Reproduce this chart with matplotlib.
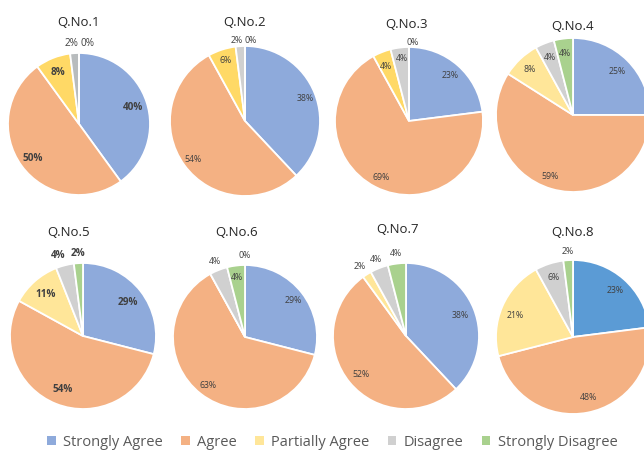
import numpy as np
import matplotlib
matplotlib.use("Agg")
import matplotlib.pyplot as plt
from matplotlib.patches import Patch

plt.rcParams["font.family"] = ["Open Sans", "DejaVu Sans"]

# --- data ---
categories = ["Strongly Agree", "Agree", "Partially Agree", "Disagree", "Strongly Disagree"]
titles = ["Q.No.1", "Q.No.2", "Q.No.3", "Q.No.4", "Q.No.5", "Q.No.6", "Q.No.7", "Q.No.8"]
q1 = [40, 50, 8, 2, 0]
q2 = [38, 54, 6, 2, 0]
q3 = [23, 69, 4, 4, 0]
q4 = [25, 59, 8, 4, 4]
q5 = [29, 54, 11, 4, 2]
q6 = [29, 63, 0, 4, 4]
q7 = [38, 52, 2, 4, 4]
q8 = [23, 48, 21, 6, 2]
values = [q1, q2, q3, q4, q5, q6, q7, q8]

# --- layout (pixels in a 644x456 canvas) ---
W, H = 644, 456
BLUE, BLUE8 = "#8eaadb", "#5b9bd5"
ORANGE = "#f4b183"
GOLD, LYELLOW = "#ffd966", "#ffe699"
GREY, GREY1 = "#d0d0d0", "#b8bcbe"
GREEN = "#a9d18e"

layout = [
    dict(cx=79, cy=125, r=71, tx=78, ty=22, fs=7.2, bold=True, rin=0.8, rout=1.15,
         out=[3, 4], nudge={4: (9, 0), 3: (-2, 0)}, cols=[BLUE, ORANGE, GOLD, GREY1, GREEN]),
    dict(cx=245, cy=122, r=75, tx=245, ty=23, fs=6.3, bold=False, rin=0.86, rout=1.09,
         out=[3, 4], nudge={4: (6, 0), 3: (-3, 0)}, cols=[BLUE, ORANGE, GOLD, GREY, GREEN]),
    dict(cx=409, cy=122, r=74, tx=406, ty=25, fs=6.3, bold=False, rin=0.84, rout=1.08,
         out=[4], nudge={4: (4, 0), 2: (0, 2), 3: (1, -2)}, cols=[BLUE, ORANGE, GOLD, GREY, GREEN]),
    dict(cx=573, cy=116, r=77, tx=572, ty=27, fs=6.3, bold=False, rin=0.82, rout=1.1,
         out=[], nudge={1: (-5, 0)}, cols=[BLUE, ORANGE, LYELLOW, GREY, GREEN]),
    dict(cx=83, cy=337, r=73, tx=69, ty=233, fs=7.2, bold=True, rin=0.77, rout=1.15,
         out=[3, 4], nudge={3: (-4, 0)}, cols=[BLUE, ORANGE, LYELLOW, GREY, GREEN]),
    dict(cx=245, cy=338, r=72, tx=237, ty=233, fs=6.3, bold=False, rin=0.84, rout=1.15,
         out=[2, 3], nudge={}, angle={2: 90}, cols=[BLUE, ORANGE, LYELLOW, GREY, GREEN]),
    dict(cx=406, cy=337, r=73, tx=398, ty=230, fs=6.3, bold=False, rin=0.8, rout=1.15,
         out=[2, 3, 4], nudge={2: (-1, 0), 3: (1, 1)}, cols=[BLUE, ORANGE, LYELLOW, GREY, GREEN]),
    dict(cx=573, cy=338, r=77, tx=572, ty=233, fs=6.3, bold=False, rin=0.82, rout=1.12,
         out=[4], nudge={1: (4, -3), 2: (0, 3)}, cols=[BLUE8, ORANGE, LYELLOW, GREY, GREEN]),
]

fig = plt.figure(figsize=(W / 100, H / 100), dpi=100)
fig.patch.set_facecolor("white")

for vals, title, lay in zip(values, titles, layout):
    cx, cy, r = lay["cx"], lay["cy"], lay["r"]
    ax = fig.add_axes([(cx - r) / W, 1 - (cy + r) / H, 2 * r / W, 2 * r / H])
    wedges, _ = ax.pie(vals, colors=lay["cols"], startangle=90, counterclock=False,
                       wedgeprops=dict(edgecolor="white", linewidth=1.3))
    ax.set_xlim(-1, 1)
    ax.set_ylim(-1, 1)
    ax.axis("off")
    total = sum(vals)
    for i, (w, v) in enumerate(zip(wedges, vals)):
        ang = lay.get("angle", {}).get(i, (w.theta1 + w.theta2) / 2)
        outside = i in lay["out"]
        dist = lay["rout"] if outside else lay["rin"]
        x = dist * np.cos(np.radians(ang))
        y = dist * np.sin(np.radians(ang))
        dx, dy = lay["nudge"].get(i, (0, 0))
        x += dx / r
        y -= dy / r
        bold = lay["bold"] and not (outside and lay is layout[0])
        ax.text(x, y, f"{v / total * 100:.0f}%", ha="center", va="center",
                fontsize=lay["fs"], color="#404040",
                fontweight="bold" if bold else "normal")
    fig.text(lay["tx"] / W, 1 - lay["ty"] / H, title, ha="center", va="center",
             fontsize=9.5, color="#262626")

handles = [Patch(facecolor=c, edgecolor="none") for c in [BLUE, ORANGE, LYELLOW, GREY, GREEN]]
fig.legend(handles, categories, loc="center", bbox_to_anchor=(0.516, 1 - 443 / H),
           ncol=5, frameon=False, fontsize=10.5, labelcolor="#595959",
           handlelength=0.6, handleheight=0.6, handletextpad=0.5, columnspacing=1.25)

fig.savefig("out.png", dpi=100)
